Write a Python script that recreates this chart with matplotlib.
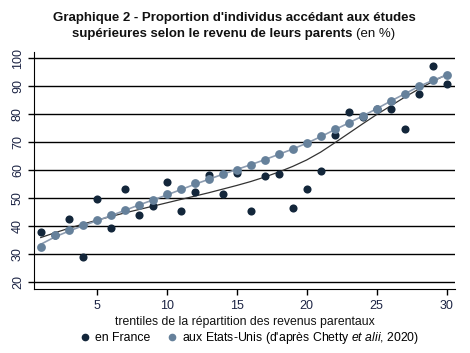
import matplotlib
matplotlib.use('Agg')
from matplotlib import pyplot as plt
from matplotlib.lines import Line2D

plt.rcParams['font.family'] = ['Liberation Sans', 'DejaVu Sans']
plt.rcParams['mathtext.fontset'] = 'custom'
plt.rcParams['mathtext.it'] = 'Liberation Sans:italic'
plt.rcParams['mathtext.rm'] = 'Liberation Sans'

trentiles = list(range(1, 31))

france = [38.1, 37.0, 42.5, 28.9, 49.6, 39.3, 53.4, 43.9, 47.3, 55.9,
          45.4, 52.4, 58.3, 51.6, 59.2, 45.4, 57.9, 58.7, 46.4, 53.2,
          59.6, 72.5, 80.8, 79.2, 82.0, 82.0, 74.7, 87.3, 97.1, 90.7]

usa = [32.5, 36.8, 38.6, 40.4, 42.1, 43.9, 45.9, 47.7, 49.5, 51.4,
       53.2, 55.4, 56.8, 58.7, 60.3, 61.9, 63.7, 65.7, 67.6, 69.7,
       72.1, 74.7, 76.9, 79.4, 82.0, 84.7, 87.4, 90.1, 92.1, 93.9]

# fitted curves
france_fit = [36.0, 37.7, 39.3, 40.8, 42.2, 43.5, 44.8, 46.0, 47.2, 48.4,
              49.6, 50.8, 52.0, 53.3, 54.6, 56.0, 57.6, 59.4, 61.4, 63.7,
              66.5, 69.8, 73.2, 76.6, 79.9, 83.0, 86.1, 89.0, 91.7, 94.2]

usa_fit = [33.6, 36.2, 38.3, 40.2, 42.0, 43.8, 45.7, 47.6, 49.4, 51.2,
           53.1, 55.0, 56.8, 58.6, 60.3, 62.0, 63.8, 65.7, 67.6, 69.7,
           72.0, 74.5, 76.9, 79.4, 82.0, 84.7, 87.3, 89.9, 92.1, 94.0]

yticks = [20, 30, 40, 50, 60, 70, 80, 90, 100]
xticks = [5, 10, 15, 20, 25, 30]

dark = '#13263a'
blue = '#66819b'
tick_col = '#1c2444'

fig = plt.figure(figsize=(4.7, 3.53), dpi=100)
ax = fig.add_axes([0.073, 0.181, 0.895, 0.672])

for y in yticks:
    ax.axhline(y, color='black', lw=1.0, zorder=1)

ax.plot(trentiles, france_fit, color='#333333', lw=0.9, zorder=2)
ax.plot(trentiles, usa_fit, color='#8d9cb0', lw=1.2, zorder=2)
ax.scatter(trentiles, france, s=34, color=dark, zorder=3, linewidths=0)
ax.scatter(trentiles, usa, s=40, color=blue, zorder=4, linewidths=0)

ax.set_xlim(0.54, 30.6)
ax.set_ylim(17.6, 102.3)
ax.set_xticks(xticks)
ax.set_yticks(yticks)
ax.set_yticklabels([str(v) for v in yticks], rotation=90, va='center')
ax.tick_params(axis='both', labelsize=9, colors='black', labelcolor=tick_col,
               length=4, width=1, direction='out')
ax.spines['top'].set_visible(False)
ax.spines['right'].set_visible(False)
ax.set_xlabel('trentiles de la répartition des revenus parentaux', fontsize=8.8,
              color='#111111', labelpad=3)

# title with a bold part and a regular part
fig.text(0.498, 0.948, "Graphique 2 - Proportion d'individus accédant aux études",
         ha='center', va='center', fontsize=9.5, fontweight='bold', color='#111111')
fig.canvas.draw()
r = fig.canvas.get_renderer()
t1 = fig.text(0, 0.905, "supérieures selon le revenu de leurs parents ",
              ha='left', va='center', fontsize=9.5, fontweight='bold', color='#111111')
t2 = fig.text(0, 0.905, "(en %)", ha='left', va='center', fontsize=9.5, color='#111111')
w1 = t1.get_window_extent(r).width
w2 = t2.get_window_extent(r).width
x0 = 0.496 * 470 - (w1 + w2) / 2
t1.set_x(x0 / 470)
t2.set_x((x0 + w1) / 470)

handles = [
    Line2D([], [], marker='o', ls='', color=dark, markersize=4.5),
    Line2D([], [], marker='o', ls='', color=blue, markersize=4.5),
]
labels = ['en France', r"aux Etats-Unis (d'après Chetty $\it{et\ alii}$, 2020)"]
fig.legend(handles, labels, loc='center', bbox_to_anchor=(0.53, 0.043), ncol=2,
           frameon=False, fontsize=8.8, handletextpad=0.32, columnspacing=1.3,
           handlelength=1.0)

fig.savefig('out.png', dpi=100)
